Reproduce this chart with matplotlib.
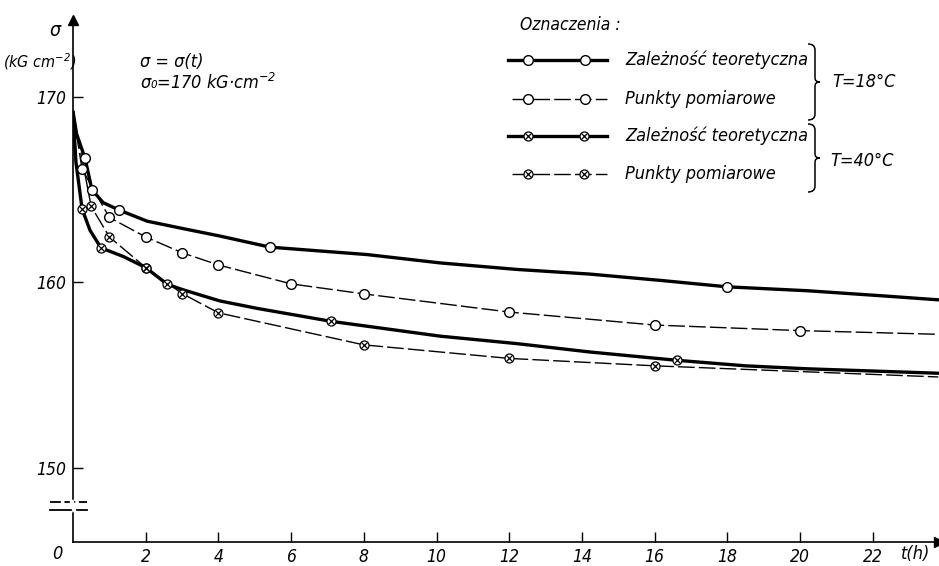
import numpy as np
import matplotlib.pyplot as plt
from matplotlib.path import Path
from matplotlib.patches import PathPatch

plt.rcParams['font.family'] = ['DejaVu Sans']
plt.rcParams['font.style'] = 'italic'
plt.rcParams['font.stretch'] = 'condensed'
plt.rcParams['mathtext.fontset'] = 'dejavusans'

# theoretical curve, T = 18 C (solid)
t_theo18 = [0, 0.1, 0.33, 0.52, 0.83, 1.27, 2.04, 3.03, 4.04, 5.42, 8.09, 10.1, 12.2, 14.2, 16.2, 18.0, 20.2, 22.3, 23.8]
s_theo18 = [169.2, 168.0, 166.7, 165.0, 164.3, 163.9, 163.3, 162.9, 162.5, 161.9, 161.5, 161.05, 160.7, 160.45, 160.1, 159.76, 159.55, 159.27, 159.06]
t_theo18_pts = [0.33, 0.52, 1.27, 5.42, 18.0]
s_theo18_pts = [166.7, 165.0, 163.9, 161.9, 159.76]

# measured, T = 18 C (dashed), first/last entries are the line ends
t_meas18 = [0, 0.25, 1, 2, 3, 4, 6, 8, 12, 16, 20, 23.8]
s_meas18 = [169.2, 166.1, 163.5, 162.45, 161.6, 160.94, 159.92, 159.38, 158.4, 157.7, 157.4, 157.2]

# theoretical curve, T = 40 C (solid)
t_theo40 = [0, 0.08, 0.25, 0.47, 0.77, 1.38, 2.0, 2.59, 3.03, 4.04, 5.06, 7.1, 10.1, 12.2, 14.2, 16.6, 18.5, 20.2, 22.3, 23.8]
s_theo40 = [169.2, 166.5, 163.96, 162.8, 161.86, 161.4, 160.8, 159.9, 159.6, 159.0, 158.6, 157.9, 157.1, 156.7, 156.25, 155.8, 155.5, 155.34, 155.2, 155.1]
t_theo40_pts = [0.25, 0.77, 2.0, 2.59, 7.1, 16.6]
s_theo40_pts = [163.96, 161.86, 160.8, 159.9, 157.9, 155.8]

# measured, T = 40 C (dashed)
t_meas40 = [0, 0.5, 1, 2, 3, 4, 8, 12, 16, 23.8]
s_meas40 = [169.2, 164.1, 162.45, 160.8, 159.4, 158.36, 156.63, 155.9, 155.5, 154.9]

xticks = [2, 4, 6, 8, 10, 12, 14, 16, 18, 20, 22]
yticks = [150, 160, 170]

W, H = 939, 566
fig = plt.figure(figsize=(W / 100, H / 100), dpi=100)
ax = fig.add_axes([73 / W, (H - 542) / H, (W - 73) / W, (542 - 20) / H])
ax.set_xlim(0, 23.82)
ax.set_ylim(146.0, 174.15)

thick = dict(color='black', lw=2.4, solid_capstyle='round')
thin = dict(color='black', lw=1.0, dashes=(12, 3))
circ = dict(marker='o', ms=7, mfc='white', mec='black', mew=1.0, ls='none', zorder=5)
xcirc = dict(marker='o', ms=6.5, mfc='white', mec='black', mew=0.9, ls='none', zorder=5)
xcross = dict(marker='x', ms=5, mec='black', mew=0.9, ls='none', zorder=6)

ax.plot(t_theo18, s_theo18, **thick)
ax.plot(t_theo18_pts, s_theo18_pts, **circ)
ax.plot(t_meas18, s_meas18, **thin)
ax.plot(t_meas18[1:-1], s_meas18[1:-1], **circ)

ax.plot(t_theo40, s_theo40, **thick)
ax.plot(t_meas40, s_meas40, **thin)
for tt, ss in [(t_theo40_pts, s_theo40_pts), (t_meas40[1:-1], s_meas40[1:-1])]:
    ax.plot(tt, ss, **xcirc)
    ax.plot(tt, ss, **xcross)

for s in ['top', 'right']:
    ax.spines[s].set_visible(False)
ax.spines['left'].set_linewidth(1.2)
ax.spines['bottom'].set_linewidth(1.2)
ax.set_xticks(xticks)
ax.set_xticklabels([str(v) for v in xticks])
ax.set_yticks(yticks)
ax.set_yticklabels([str(v) for v in yticks])
ax.tick_params(direction='in', length=7, width=1, labelsize=12.5, pad=5)
ax.tick_params(axis='x', pad=4)

# axis arrows
ax.plot([0], [1], marker='^', ms=7, color='black', transform=ax.transAxes, clip_on=False)
ax.plot([1], [0], marker='>', ms=7, color='black', transform=ax.transAxes, clip_on=False)

# overlay in pixel coordinates for labels, legend, braces
ov = fig.add_axes([0, 0, 1, 1])
ov.set_xlim(0, W)
ov.set_ylim(H, 0)
ov.axis('off')
ov.patch.set_alpha(0)

# axis break marks
ov.plot([50, 87], [502, 502], color='black', lw=1.3, dashes=(6, 2))
ov.plot([50, 87], [510, 510], color='black', lw=1.3)
ov.plot([72, 74], [502, 510], color='white', lw=3)

ov.text(57, 554, '0', fontsize=13, ha='center', va='center')
ov.text(916, 554, 't(h)', fontsize=13, ha='center', va='center')
ov.text(55, 31, 'σ', fontsize=14, ha='center', va='center')
ov.text(40, 62, '(kG cm$^{-2}$)', fontsize=11.5, ha='center', va='center')
ov.text(140, 62, 'σ = σ(t)', fontsize=13, ha='left', va='center')
ov.text(140, 83, 'σ₀=170 kG·cm$^{-2}$', fontsize=13, ha='left', va='center')

# legend
ov.text(520, 25, 'Oznaczenia :', fontsize=12.5, ha='left', va='center')
rows = [60, 99, 136, 174]
labels = ['Zależność teoretyczna', 'Punkty pomiarowe', 'Zależność teoretyczna', 'Punkty pomiarowe']
for i, (y, lab) in enumerate(zip(rows, labels)):
    if i % 2 == 0:
        ov.plot([508, 607], [y, y], color='black', lw=2.4)
    else:
        ov.plot([512, 607], [y, y], color='black', lw=1.0, dashes=(12, 3))
    if i < 2:
        ov.plot([528, 585], [y, y], **circ)
    else:
        ov.plot([528, 584], [y, y], **xcirc)
        ov.plot([528, 584], [y, y], **xcross)
    ov.text(625, y, lab, fontsize=13, ha='left', va='center')


def brace(x, y0, y1, w=7):
    ym = (y0 + y1) / 2
    verts = [(x, y0), (x + w, y0), (x + w, y0 + 6), (x + w, ym - 4),
             (x + w, ym), (x + w + 5, ym),
             (x + w, ym), (x + w, ym + 4), (x + w, y1 - 6), (x + w, y1), (x, y1)]
    codes = [Path.MOVETO, Path.CURVE3, Path.CURVE3, Path.LINETO,
             Path.CURVE3, Path.CURVE3,
             Path.CURVE3, Path.CURVE3, Path.LINETO, Path.CURVE3, Path.CURVE3]
    ov.add_patch(PathPatch(Path(verts, codes), fill=False, lw=1.1, color='black'))


brace(808, 44, 120)
brace(808, 124, 192)
ov.text(832, 82, 'T=18°C', fontsize=13, ha='left', va='center')
ov.text(830, 161, 'T=40°C', fontsize=13, ha='left', va='center')

fig.savefig('out.png', dpi=100)
